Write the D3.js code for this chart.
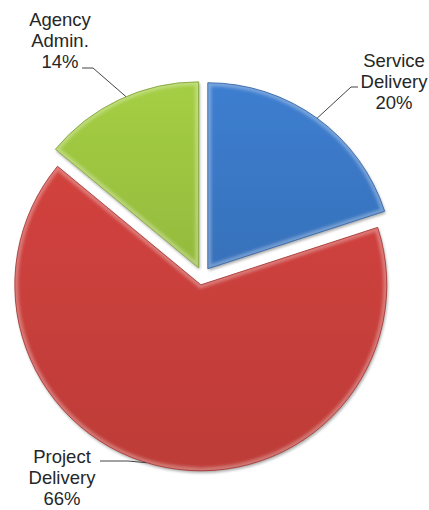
<!DOCTYPE html>
<html>
<head>
<meta charset="utf-8">
<script src="https://cdn.jsdelivr.net/npm/d3@7"></script>
<style>
  html, body { margin: 0; padding: 0; background: #ffffff; }
  svg { display: block; }
</style>
</head>
<body>
<svg id="chart" width="429" height="510"></svg>
<script>
// Budget share by function
const categories = ["Service Delivery", "Project Delivery", "Agency Admin."];
const values = [20, 66, 14];
const labelLines = [["Service", "Delivery", "20%"], ["Project", "Delivery", "66%"], ["Agency", "Admin.", "14%"]];
const baseColors = ["#3a77c5", "#c73f3b", "#9cc440"];

const svg = d3.select("#chart");
const cx = 202.5, cy = 276, radius = 186, explode = 9;

const pie = d3.pie().sort(null).value(d => d).startAngle(0).endAngle(2 * Math.PI);
const arc = d3.arc().innerRadius(0).outerRadius(radius);
const arcs = pie(values);

const defs = svg.append("defs");

// vertical shading per slice
arcs.forEach((a, i) => {
  const c = d3.color(baseColors[i]);
  const g = defs.append("linearGradient")
    .attr("id", "grad" + i).attr("x1", 0).attr("y1", 0).attr("x2", 0).attr("y2", 1);
  g.append("stop").attr("offset", "0%").attr("stop-color", c.brighter(0.15));
  g.append("stop").attr("offset", "100%").attr("stop-color", c.darker(0.15));
  defs.append("clipPath").attr("id", "clip" + i)
    .append("path").attr("d", arc(a));
});

const blur = defs.append("filter").attr("id", "soft").attr("x", "-10%").attr("y", "-10%").attr("width", "120%").attr("height", "120%");
blur.append("feGaussianBlur").attr("stdDeviation", 1.6);

const shadow = defs.append("filter").attr("id", "shadow").attr("x", "-10%").attr("y", "-10%").attr("width", "130%").attr("height", "130%");
shadow.append("feGaussianBlur").attr("in", "SourceAlpha").attr("stdDeviation", 1.5);
shadow.append("feOffset").attr("dx", 1).attr("dy", 1.5).attr("result", "b");
shadow.append("feComponentTransfer").append("feFuncA").attr("type", "linear").attr("slope", 0.35);
const merge = shadow.append("feMerge");
merge.append("feMergeNode");
merge.append("feMergeNode").attr("in", "SourceGraphic");

function offsetOf(a) {
  const mid = (a.startAngle + a.endAngle) / 2;
  return [cx + explode * Math.sin(mid), cy - explode * Math.cos(mid)];
}

const slices = svg.append("g").selectAll("g.slice")
  .data(arcs).join("g")
  .attr("class", "slice")
  .attr("transform", d => `translate(${offsetOf(d)})`);

slices.append("path")
  .attr("d", arc)
  .attr("fill", (d, i) => `url(#grad${i})`)
  .attr("filter", "url(#shadow)");

// soft bevelled rim
slices.append("g")
  .attr("clip-path", (d, i) => `url(#clip${i})`)
  .append("path")
  .attr("d", arc)
  .attr("fill", "none")
  .attr("stroke", "#ffffff")
  .attr("stroke-opacity", 0.3)
  .attr("stroke-width", 7)
  .attr("filter", "url(#soft)");

slices.append("path")
  .attr("d", arc)
  .attr("fill", "none")
  .attr("stroke", (d, i) => d3.color(baseColors[i]).darker(0.6))
  .attr("stroke-width", 0.8);

// leader lines and labels
const labelPos = [[394, 67], [62, 463], [60, 26]];
const leaderStart = [[[358, 87], [351, 87]], [[100, 461], [128, 461]], [[82, 68], [93, 68]]];
const anchorDeg = [36, 197, 337];   // where each leader meets its slice rim
const lineHeight = 21;

arcs.forEach((a, i) => {
  const [ox, oy] = offsetOf(a);
  const ang = anchorDeg[i] * Math.PI / 180;
  const ex = ox + radius * Math.sin(ang), ey = oy - radius * Math.cos(ang);
  const pts = [...leaderStart[i], [ex, ey]];
  svg.append("path")
    .attr("d", d3.line()(pts))
    .attr("fill", "none")
    .attr("stroke", "#444")
    .attr("stroke-width", 1);

  const t = svg.append("text")
    .attr("x", labelPos[i][0]).attr("y", labelPos[i][1])
    .attr("text-anchor", "middle")
    .attr("font-family", "Liberation Sans, Arial, sans-serif")
    .attr("font-size", 18.5)
    .attr("fill", "#262626");
  labelLines[i].forEach((s, k) => {
    t.append("tspan").attr("x", labelPos[i][0]).attr("dy", k === 0 ? 0 : lineHeight).text(s);
  });
});
</script>
</body>
</html>
